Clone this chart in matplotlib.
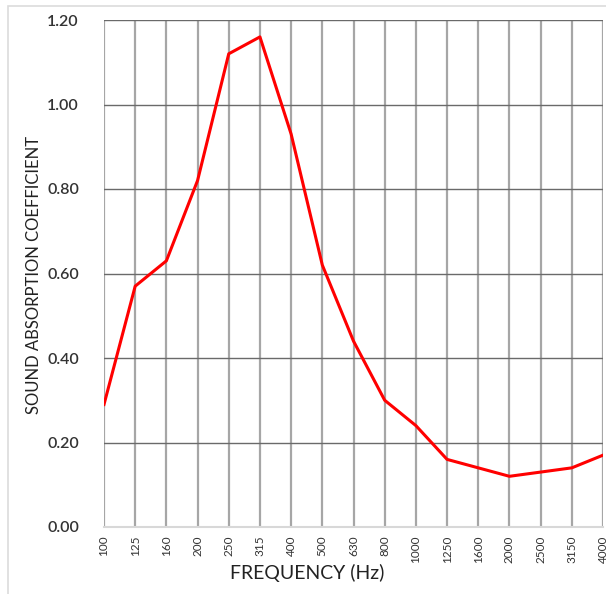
import matplotlib
matplotlib.use("Agg")
import matplotlib.pyplot as plt
from matplotlib.patches import Rectangle

# One-third-octave band centre frequencies and measured absorption
frequencies = ["100", "125", "160", "200", "250", "315", "400", "500", "630",
               "800", "1000", "1250", "1600", "2000", "2500", "3150", "4000"]
absorption = [0.29, 0.57, 0.63, 0.82, 1.12, 1.16, 0.93, 0.62, 0.44,
              0.30, 0.24, 0.16, 0.14, 0.12, 0.13, 0.14, 0.17]
y_ticks = [0.0, 0.2, 0.4, 0.6, 0.8, 1.0, 1.2]

plt.rcParams["font.family"] = ["Lato", "DejaVu Sans"]

W, H = 606, 594
fig = plt.figure(figsize=(W / 100, H / 100), dpi=100)
fig.patch.set_facecolor("white")

# thin light frame around the chart
fig.patches.append(Rectangle((8 / W, -0.05), 1.2, (594 - 6) / H + 0.05,
                             transform=fig.transFigure, fill=False,
                             edgecolor="#dcdcdc", linewidth=1.2))

ax = fig.add_axes([104 / W, (H - 527) / H, (603 - 104) / W, (527 - 20) / H])
x = list(range(len(frequencies)))
ax.plot(x, absorption, color="#ff0000", linewidth=2.2, zorder=3)

ax.set_xlim(0, len(frequencies) - 1)
ax.set_ylim(0, 1.2)
ax.set_xticks(x)
ax.set_xticklabels(frequencies, rotation=90, fontsize=8.5, color="#333333")
ax.set_yticks(y_ticks)
ax.set_yticklabels([f"{v:.2f}" for v in y_ticks], fontsize=11.5,
                   fontweight="semibold", color="#333333")

ax.grid(axis="x", color="#a6a6a6", linewidth=1.6)
ax.grid(axis="y", color="#6a6a6a", linewidth=1.0)
ax.set_axisbelow(True)
ax.tick_params(length=0)
ax.tick_params(axis="x", pad=6)
ax.tick_params(axis="y", pad=18)

for side in ["left", "top", "right"]:
    ax.spines[side].set_visible(False)
ax.spines["bottom"].set_color("#d8d8d8")
ax.spines["bottom"].set_linewidth(1.5)

fig.text(307 / W, 1 - 573 / H, "FREQUENCY (Hz)", fontsize=14,
         color="#222222", ha="center", va="center")
fig.text(34 / W, 1 - 275 / H, "SOUND ABSORPTION COEFFICIENT", fontsize=12,
         color="#222222", ha="center", va="center", rotation=90)

fig.savefig("out.png", dpi=100, facecolor="white")
